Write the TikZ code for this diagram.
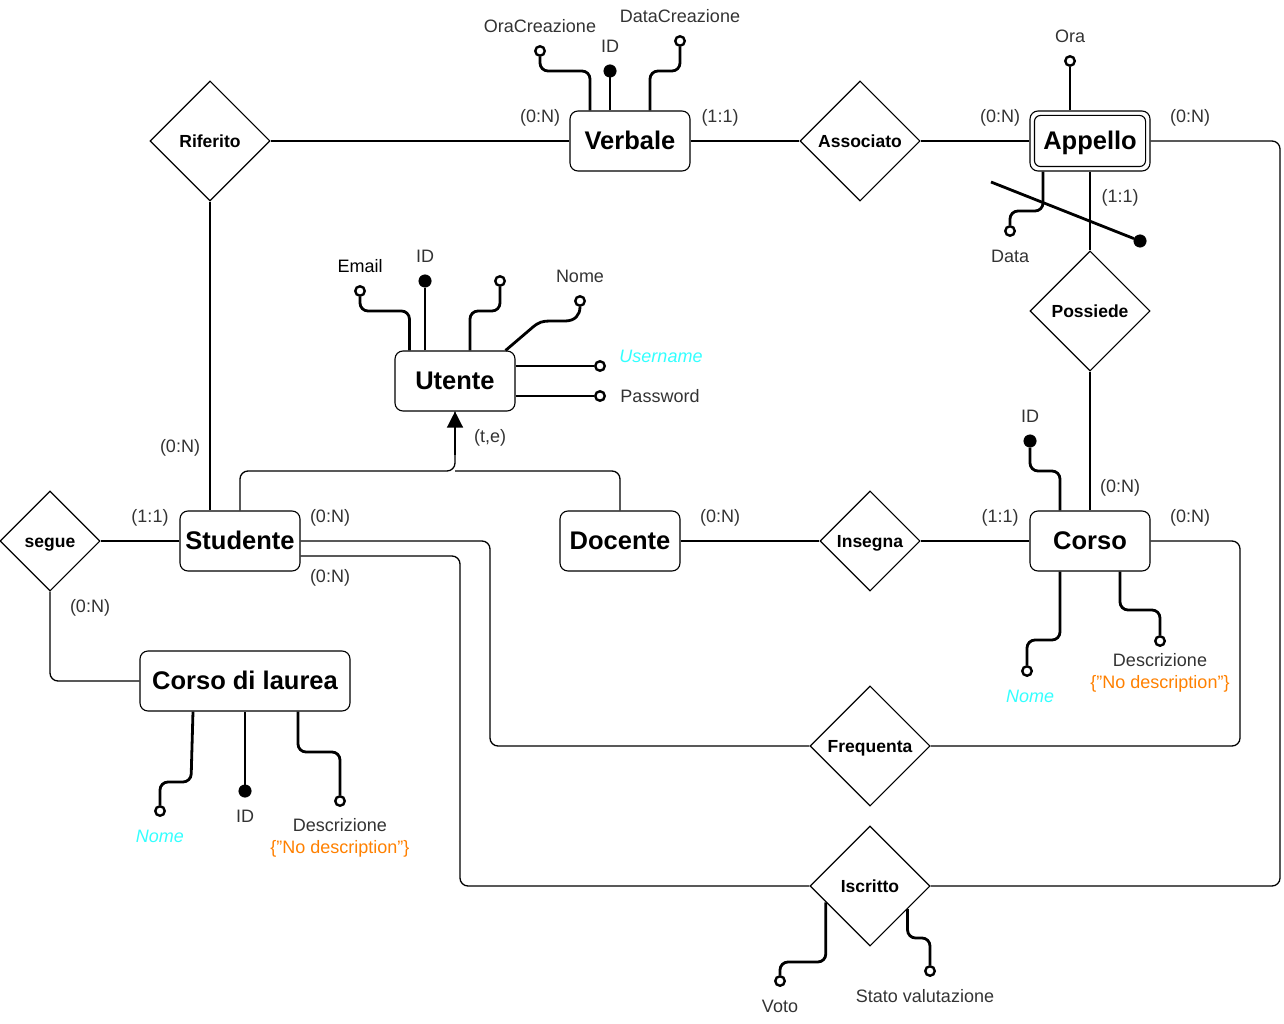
\documentclass[tikz,border=0pt]{standalone}
\usepackage{fontspec}
\setmainfont{Liberation Sans}
\usetikzlibrary{shapes.geometric,calc,arrows.meta}
\definecolor{txt}{HTML}{333333}
\definecolor{cyanlbl}{HTML}{33FFFF}
\definecolor{orangelbl}{HTML}{FF8000}
\begin{document}
\begin{tikzpicture}[x=1pt,y=-1pt,
  ent/.style={draw, rounded corners=8pt, minimum width=120pt, minimum height=60pt, fill=white,
    font=\fontsize{25.5}{28}\selectfont\bfseries, inner sep=0pt, line width=1.1pt,
    text height=21.7pt, text depth=4.1pt},
  rel/.style={draw, diamond, aspect=1, minimum width=120pt, minimum height=120pt, inner sep=0pt,
    fill=white, font=\fontsize{17.5}{20}\selectfont\bfseries, line width=1.1pt,
    text height=14.9pt, text depth=2.8pt},
  relsmall/.style={rel, minimum width=100pt, minimum height=100pt},
  conn/.style={line width=1.3pt, rounded corners=8pt},
  attr/.style={line width=2.8pt, rounded corners=8pt},
  oatt/.style={circle, draw, line width=2.4pt, fill=white, minimum size=9.5pt, inner sep=0pt},
  katt/.style={circle, draw, fill=black, line width=0.5pt, minimum size=12.5pt, inner sep=0pt},
  lbl/.style={text=txt, font=\fontsize{18}{20}\selectfont, inner sep=0pt,
    text height=15.3pt, text depth=2.9pt},
  card/.style={lbl}
]
\useasboundingbox (0,0) rectangle (1284,1024);

% ---------- entities ----------
\node[ent] (verbale) at (630,141) {Verbale};
\node[ent] (appello) at (1090,141) {Appello};
\node[ent] (utente) at (455,381) {Utente};
\node[ent] (studente) at (240,541) {Studente};
\node[ent] (docente) at (620,541) {Docente};
\node[ent] (corso) at (1090,541) {Corso};
\node[ent, minimum width=210pt] (cdl) at (245,681) {Corso di laurea};
\draw[line width=1.1pt, rounded corners=6pt] ($(appello.north west)+(5,5)$) rectangle ($(appello.south east)+(-5,-5)$);

% ---------- relationships ----------
\node[rel] (riferito) at (210,141) {Riferito};
\node[rel] (associato) at (860,141) {Associato};
\node[rel] (possiede) at (1090,311) {Possiede};
\node[relsmall] (segue) at (50,541) {segue};
\node[relsmall] (insegna) at (870,541) {Insegna};
\node[rel] (frequenta) at (870,746) {Frequenta};
\node[rel] (iscritto) at (870,886) {Iscritto};

% ---------- connectors ----------
\draw[conn] (riferito.east) -- (verbale.west);
\draw[conn] (riferito.south) -- (riferito.south |- studente.north);
\draw[conn] (verbale.east) -- (associato.west);
\draw[conn] (associato.east) -- (appello.west);
\draw[conn] (appello.east) -- (1280,141) -- (1280,886) -- (iscritto.east);
\draw[conn] (appello.south) -- (possiede.north);
\draw[conn] (possiede.south) -- (corso.north);
\draw[conn] (studente.west) -- (segue.east);
\draw[conn] (segue.south) |- (cdl.west);
\draw[conn] (studente.east) -- (490,541) -- (490,746) -- (frequenta.west);
\draw[conn] (frequenta.east) -- (1240,746) -- (1240,541) -- (corso.east);
\draw[conn] ($(studente.east)+(0,15)$) -- (460,556) -- (460,886) -- (iscritto.west);
\draw[conn] (docente.east) -- (insegna.west);
\draw[conn] (insegna.east) -- (corso.west);

% generalization
\coordinate (gj) at (455,471);
\draw[conn] (studente.north) |- (gj) -- (utente.south);
\draw[conn] (docente.north) |- (gj);
\draw[line width=1.3pt, -{Triangle[width=16pt,length=16pt]}] (455,455) -- (utente.south);

% ---------- attributes: Verbale ----------
\node[oatt] (voc) at (540,51) {};
\node[katt] (vid) at (610,71) {};
\node[oatt] (vdc) at (680,41) {};
\draw[attr] ($(verbale.north)+(-40,0)$) |- (540,71) -- (voc);
\draw[attr] (verbale.north -| vid) -- (vid);
\draw[attr] ($(verbale.north)+(20,0)$) |- (680,71) -- (vdc);
\node[lbl] (lvoc) at (540,26) {OraCreazione};
\node[lbl] (lvid) at (610,46) {ID};
\node[lbl] (lvdc) at (680,16) {DataCreazione};

% ---------- attributes: Appello ----------
\node[oatt] (aora) at (1070,61) {};
\draw[attr] (appello.north -| aora) -- (aora);
\node[lbl] (laora) at (1070,36) {Ora};
\node[oatt] (adata) at (1010,231) {};
\draw[attr] ($(appello.south)+(-47,0)$) -- (1043,211) -- (1010,211) -- (adata);
\node[lbl] (ladata) at (1010,256) {Data};
\coordinate (cid) at (991,182);
\node[katt] (aid) at (1140,241) {};
\draw[line width=2.8pt] (cid) -- (aid);

% ---------- attributes: Utente ----------
\node[oatt] (uemail) at (360,291) {};
\node[katt] (uid) at (425,281) {};
\node[oatt] (ux) at (500,281) {};
\node[oatt] (unome) at (580,301) {};
\node[oatt] (uuser) at (600,366) {};
\node[oatt] (upass) at (600,396) {};
\draw[attr] ($(utente.north west)+(15,0)$) |- (360,311) -- (uemail);
\draw[attr] (utente.north -| uid) -- (uid);
\draw[attr] ($(utente.north)+(15,0)$) |- (500,311) -- (ux);
\draw[line width=2.8pt] ($(utente.north east)+(-10,0)$) -- (533,327) .. controls (539,322) and (543,321) .. (550,321) -- (565,321) .. controls (575,321) and (580,315) .. (unome);
\draw[attr] ($(utente.east)+(0,-15)$) -- (uuser);
\draw[attr] ($(utente.east)+(0,15)$) -- (upass);
\node[lbl, text=black] (luemail) at (360,266) {Email};
\node[lbl] (luid) at (425,256) {ID};
\node[lbl] (lunome) at (580,276) {Nome};
\node[lbl, text=cyanlbl, font=\fontsize{18}{20}\selectfont\itshape] (luuser) at (661,356) {Username};
\node[lbl] (lupass) at (660,396) {Password};

% ---------- attributes: Corso ----------
\node[katt] (cid2) at (1030,441) {};
\draw[attr] ($(corso.north)+(-30,0)$) |- (1030,471) -- (cid2);
\node[lbl] (lcid) at (1030,416) {ID};
\node[oatt] (cnome) at (1027,671) {};
\draw[attr] ($(corso.south)+(-30,0)$) |- (1027,640) -- (cnome);
\node[lbl, text=cyanlbl, font=\fontsize{18}{20}\selectfont\itshape] (lcnome) at (1030,696) {Nome};
\node[oatt] (cdesc) at (1160,641) {};
\draw[attr] ($(corso.south)+(30,0)$) |- (1160,610) -- (cdesc);
\node[lbl] (lcdesc) at (1160,660) {Descrizione};
\node[lbl, text=orangelbl] (lcdesc2) at (1160,682) {\{"No description"\}};

% ---------- attributes: Corso di laurea ----------
\node[oatt] (lnome) at (160,811) {};
\draw[attr] ($(cdl.south)+(-52,0)$) -- (191,782) -- (160,782) -- (lnome);
\node[lbl, text=cyanlbl, font=\fontsize{18}{20}\selectfont\itshape] (llnome) at (160,836) {Nome};
\node[katt] (lid) at (245,791) {};
\draw[attr] (cdl.south) -- (lid);
\node[lbl] (llid) at (245,816) {ID};
\node[oatt] (ldesc) at (340,801) {};
\draw[attr] ($(cdl.south)+(53,0)$) |- (340,752) -- (ldesc);
\node[lbl] (lldesc) at (340,825) {Descrizione};
\node[lbl, text=orangelbl] (lldesc2) at (340,847) {\{"No description"\}};

% ---------- attributes: Iscritto ----------
\node[oatt] (ivoto) at (780,981) {};
\draw[attr] ($(iscritto.west)!0.27!(iscritto.south)$) |- (780,962) -- (ivoto);
\node[lbl] (livoto) at (780,1006) {Voto};
\node[oatt] (istato) at (930,971) {};
\draw[attr] ($(iscritto.east)!0.38!(iscritto.south)$) |- (930,938) -- (istato);
\node[lbl] (listato) at (925,996) {Stato valutazione};

% ---------- cardinalities ----------
\node[card] (c1) at (540,116) {(0:N)};
\node[card] (c2) at (720,116) {(1:1)};
\node[card] (c3) at (1000,116) {(0:N)};
\node[card] (c4) at (1190,116) {(0:N)};
\node[card] (c5) at (1120,196) {(1:1)};
\node[card] (c6) at (180,446) {(0:N)};
\node[card] (c7) at (150,516) {(1:1)};
\node[card] (c8) at (330,516) {(0:N)};
\node[card] (c9) at (330,576) {(0:N)};
\node[card] (c10) at (90,606) {(0:N)};
\node[card] (c11) at (720,516) {(0:N)};
\node[card] (c12) at (1000,516) {(1:1)};
\node[card] (c13) at (1190,516) {(0:N)};
\node[card] (c14) at (1120,486) {(0:N)};
\node[card] (c15) at (490,436) {(t,e)};
\end{tikzpicture}
\end{document}
